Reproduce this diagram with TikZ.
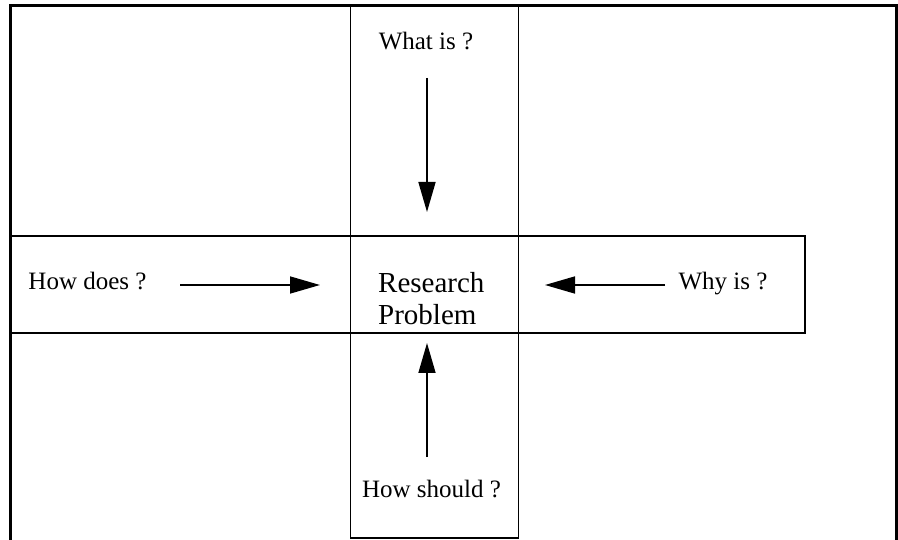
\documentclass[tikz,border=0pt]{standalone}
\usepackage{fontspec}
\setmainfont{Liberation Serif}
\usetikzlibrary{arrows.meta}
\begin{document}
\begin{tikzpicture}[x=1pt,y=-1pt,
  frame/.style={line width=3pt},
  boxline/.style={line width=1.8pt},
  lab/.style={font=\fontsize{25}{30}\selectfont, anchor=base, inner sep=0pt},
  big/.style={font=\fontsize{29}{34}\selectfont, anchor=base west, inner sep=0pt},
  arr/.style={line width=1.6pt, -{Triangle[length=30pt,width=17pt]}}]
\useasboundingbox (0,0) rectangle (898,540);
\draw[frame] (10.5,540) -- (10.5,5.5) -- (896.5,5.5) -- (896.5,540);
\draw[boxline] (350.5,5.5) rectangle (518.5,538);
\draw[boxline] (11,236) rectangle (805,333);
\node[lab] (what) at (426,50) {What is ?};
\node[lab] (how) at (87.5,290) {How does ?};
\node[lab] (why) at (723,290) {Why is ?};
\node[lab] (should) at (431.5,497) {How should ?};
\node[big] (rp1) at (378,293) {Research};
\node[big] (rp2) at (378,325) {Problem};
\coordinate (t1) at (427,78);
\coordinate (t2) at (427,212);
\coordinate (l1) at (180,285);
\coordinate (l2) at (320,285);
\coordinate (r1) at (665,285);
\coordinate (r2) at (545,285);
\coordinate (b1) at (427,457);
\coordinate (b2) at (427,343);
\draw[arr] (t1) -- (t2);
\draw[arr] (l1) -- (l2);
\draw[arr] (r1) -- (r2);
\draw[arr] (b1) -- (b2);
\end{tikzpicture}
\end{document}
